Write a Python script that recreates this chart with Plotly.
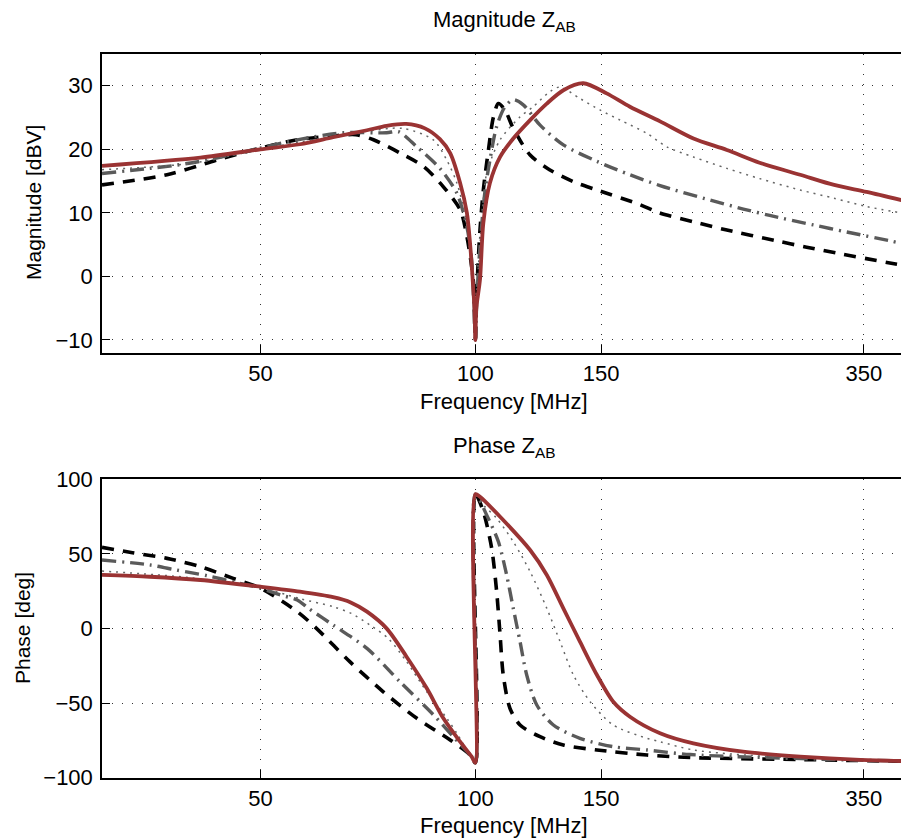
import numpy as np
import plotly.graph_objects as go

# ---------------- data ----------------
# Magnitude Z_AB [dBV]
f_mag_black = [30, 37, 43.4, 50, 56.3, 63.2, 68, 72, 78.5, 84.6, 90.2, 95.2, 97.3, 99.4, 100,
               100.4, 101.5, 102.6, 104.3, 106, 107.7, 110, 113, 119.3, 127, 137.2, 148, 170,
               181, 202, 225, 264, 291, 320, 377, 395]
mag_black = [14.4, 16.0, 18.3, 20.2, 21.5, 22.1, 22.3, 21.5, 19.4, 17.3, 14.1, 10.5, 6.3, -1.0, -10,
             -3.0, 7.3, 13.6, 19.9, 25.1, 27.2, 26.2, 23.3, 19.1, 16.8, 14.9, 13.6, 11.3,
             10.0, 8.6, 7.3, 5.6, 4.6, 3.7, 2.2, 1.8]

f_mag_gray = [30, 35, 38.1, 42, 50, 56.3, 65.3, 75.1, 78, 82.8, 89.2, 94.2, 97.3, 98.8, 100,
              100.5, 101.7, 103.2, 104.8, 107.1, 110, 113, 116.7, 123.2, 132.8, 148, 164.6,
              181.4, 213.4, 237.3, 258.3, 297.4, 331, 381, 395]
mag_gray = [16.2, 17.0, 17.5, 18.3, 20.2, 21.5, 22.6, 22.6, 22.8, 20.4, 17.0, 13.1, 7.8, 2.6, -10,
            -3.0, 6.0, 13.6, 18.3, 23.6, 26.7, 27.8, 27.0, 23.8, 20.7, 18.1, 16.0,
            14.3, 12.0, 10.6, 9.6, 8.1, 7.0, 5.6, 5.2]

f_mag_dot = [30, 40, 50, 60, 70, 79, 87.3, 91.2, 94.2, 97, 99, 100,
             100.5, 102, 103.7, 108.3, 115.5, 120.5, 127.2, 131.4, 140.1, 149.4, 159.5, 173.9,
             185.3, 202, 225, 250, 285, 318, 353, 395]
mag_dot = [16.8, 17.8, 20.0, 21.6, 22.8, 23.3, 21.5, 18.3, 14.7, 9.0, 1.0, -10,
           -2.0, 8.0, 16.2, 21.5, 25.1, 26.7, 29.1, 29.8, 28.0, 26.2, 24.6, 22.5,
           20.4, 18.8, 17.0, 15.4, 13.6, 12.3, 11.0, 10.0]

f_mag_red = [30, 41.2, 50, 56.8, 63.2, 70.5, 75.1, 80, 85, 89.2, 92.2, 95.2, 97.3, 98.3, 99.2, 99.7, 100,
             100.3, 101.5, 102.6, 104.8, 108.3, 113, 119.3, 125.9, 132.8, 141.6, 152.7, 164.6,
             181.4, 202, 225, 250, 285, 318, 353, 395]
mag_red = [17.4, 18.7, 20.0, 20.8, 21.9, 23.0, 23.7, 24.0, 23.3, 21.6, 19.4, 14.7, 10.0, 5.2, -1.0, -5.0, -10,
           -5.0, -0.5, 8.4, 14.7, 18.8, 21.7, 24.6, 27.2, 29.3, 30.4, 28.8, 26.7,
           24.4, 21.7, 19.9, 17.9, 16.0, 14.4, 13.3, 12.0]

# Phase Z_AB [deg]
f_ph_black = [30, 33.1, 37, 41.2, 45.8, 50, 56.3, 59.9, 66.7, 74.3, 82.8, 92.2, 98.3, 100,
              100, 102.6, 105.4, 107.1, 108.3, 109.4, 111.8, 115.5, 123.2, 132.8, 148, 173.9,
              200, 300, 395]
ph_black = [54.4, 50.8, 47.0, 41.4, 33.6, 27.0, 11.3, 0.1, -22.2, -42.4, -60.2, -74.7, -84.8, -90,
            90, 78.3, 53.7, 24.7, -4.4, -31.2, -53.5, -64.7, -72.5, -78.1, -81.4, -84.8,
            -86.5, -88.0, -89.0]

f_ph_gray = [30, 35, 38.1, 42.1, 46.8, 50, 53.3, 56.3, 58.4, 63.2, 70.5, 78.4, 87.4, 93.1, 98.3, 100,
             100, 103.7, 107.7, 110.6, 113, 115.5, 118, 121.9, 128.6, 140.1, 156, 173.9,
             200, 300, 395]
ph_gray = [45.9, 42.6, 39.2, 35.4, 30.3, 27.0, 22.5, 19.1, 13.5, 2.3, -13.3, -35.7, -58.0, -72.5, -84.8, -90,
           90, 76.1, 58.2, 35.9, 13.5, -8.8, -31.2, -51.3, -64.7, -73.6, -79.2, -81.4,
           -84.5, -87.5, -88.8]

f_ph_dot = [30, 40, 50, 56.8, 63.2, 67.1, 71.2, 75.5, 80.1, 85.5, 91.2, 94.2, 98.3, 100,
            100, 103, 107.1, 113, 119.3, 125.9, 131.4, 137.2, 144.8, 156, 173.9, 181.4,
            202, 260, 395]
ph_dot = [38.5, 34.0, 27.5, 20.0, 14.6, 10.0, 2.3, -6.6, -22.2, -42.4, -60.2, -70.2, -85.0, -90,
          90, 82.0, 73.9, 58.2, 38.1, 13.5, -8.8, -31.2, -49.1, -64.7, -73.6, -75.9,
          -81.4, -86.0, -88.5]

f_ph_red = [30, 35, 41.2, 50, 56.8, 63.2, 66.9, 70.5, 75.1, 80.1, 85.5, 90.2, 95.2, 98.8, 100,
            100, 101.5, 108.3, 119.3, 125.9, 132.8, 140.1, 148, 156, 164.6, 181.4, 202,
            237, 285, 346, 395]
ph_red = [35.9, 34.7, 32.5, 28.0, 24.7, 21.0, 17.5, 11.3, 0.1, -18.9, -40.1, -60.2, -75.9, -85.9, -90,
          90, 88.3, 74.9, 52.6, 35.9, 13.5, -8.8, -31.2, -49.1, -59.1, -70.2, -77.0,
          -82.6, -85.9, -88.1, -88.8]

x_tickvals = [50, 100, 150, 350]
mag_ticks = [-10, 0, 10, 20, 30]
ph_ticks = [-100, -50, 0, 50, 100]

# ---------------- styles ----------------
FONT = "Liberation Sans, Arial, Helvetica, sans-serif"
styles = {
    "black": dict(color="#000000", width=3.6, dash="12px,9px"),
    "gray": dict(color="#5a5a5a", width=3.4, dash="14px,6px,2px,6px"),
    "dot": dict(color="#666666", width=1.5, dash="2px,5px"),
    "red": dict(color="#9a3333", width=3.8, dash="solid"),
}

fig = go.Figure()

mag_series = [(f_mag_black, mag_black, "black"), (f_mag_gray, mag_gray, "gray"),
              (f_mag_dot, mag_dot, "dot"), (f_mag_red, mag_red, "red")]
ph_series = [(f_ph_black, ph_black, "black"), (f_ph_gray, ph_gray, "gray"),
             (f_ph_dot, ph_dot, "dot"), (f_ph_red, ph_red, "red")]

for fx, vy, st in mag_series:
    fig.add_trace(go.Scatter(x=fx, y=vy, mode="lines",
                             line=dict(shape="spline", smoothing=0.8, **styles[st]),
                             xaxis="x", yaxis="y", showlegend=False, hoverinfo="skip"))
for fx, vy, st in ph_series:
    fig.add_trace(go.Scatter(x=fx, y=vy, mode="lines",
                             line=dict(shape="spline", smoothing=0.8, **styles[st]),
                             xaxis="x2", yaxis="y2", showlegend=False, hoverinfo="skip"))

W, H = 901, 840
L = 102
xrange_log = [np.log10(30), np.log10(394.5)]

common_x = dict(type="log", range=xrange_log, tickvals=x_tickvals,
                ticktext=[str(v) for v in x_tickvals], automargin=False,
                showline=True, linecolor="#000", linewidth=1.5, mirror=True,
                ticks="inside", ticklen=8, tickcolor="#000", tickwidth=1,
                showgrid=True, gridcolor="#333", gridwidth=1, griddash="1px,9px",
                zeroline=False, tickfont=dict(family=FONT, size=22, color="#000"),
                ticklabelstandoff=0)
common_y = dict(showline=True, linecolor="#000", linewidth=1.5, mirror=False, automargin=False,
                ticks="inside", ticklen=8, tickcolor="#000", tickwidth=1,
                showgrid=True, gridcolor="#333", gridwidth=1, griddash="1px,9px",
                zeroline=False, tickfont=dict(family=FONT, size=22, color="#000"),
                ticklabelstandoff=3)

top_dom = [1 - 352.7 / H, 1 - 54 / H]
bot_dom = [1 - 777.7 / H, 1 - 479.3 / H]

fig.update_layout(
    width=W, height=H,
    margin=dict(l=L, r=0, t=0, b=0, autoexpand=False),
    paper_bgcolor="white", plot_bgcolor="white",
    font=dict(family=FONT, size=21, color="#000"),
    xaxis=dict(domain=[0, 1], anchor="y", **common_x),
    yaxis=dict(domain=top_dom, anchor="x", range=[-12, 35], tickvals=mag_ticks, **common_y),
    xaxis2=dict(domain=[0, 1], anchor="y2", **common_x),
    yaxis2=dict(domain=bot_dom, anchor="x2", range=[-100, 100], tickvals=ph_ticks, **common_y),
)

def pann(text, px, py, size=21, angle=0):
    fig.add_annotation(text=text, x=(px - L) / (W - L), y=1 - py / H,
                       xref="paper", yref="paper", showarrow=False,
                       font=dict(family=FONT, size=size, color="#000"),
                       textangle=angle, xanchor="center", yanchor="middle")

pann("Magnitude Z<sub>AB</sub>", 504, 21, size=22)
pann("Phase Z<sub>AB</sub>", 504, 447, size=22)
pann("Frequency [MHz]", 504, 401, size=22)
pann("Frequency [MHz]", 504, 825, size=22)
pann("Magnitude [dBV]", 33, 203, size=21, angle=-90)
pann("Phase [deg]", 22, 628, size=21, angle=-90)

fig.write_html("out.html")
